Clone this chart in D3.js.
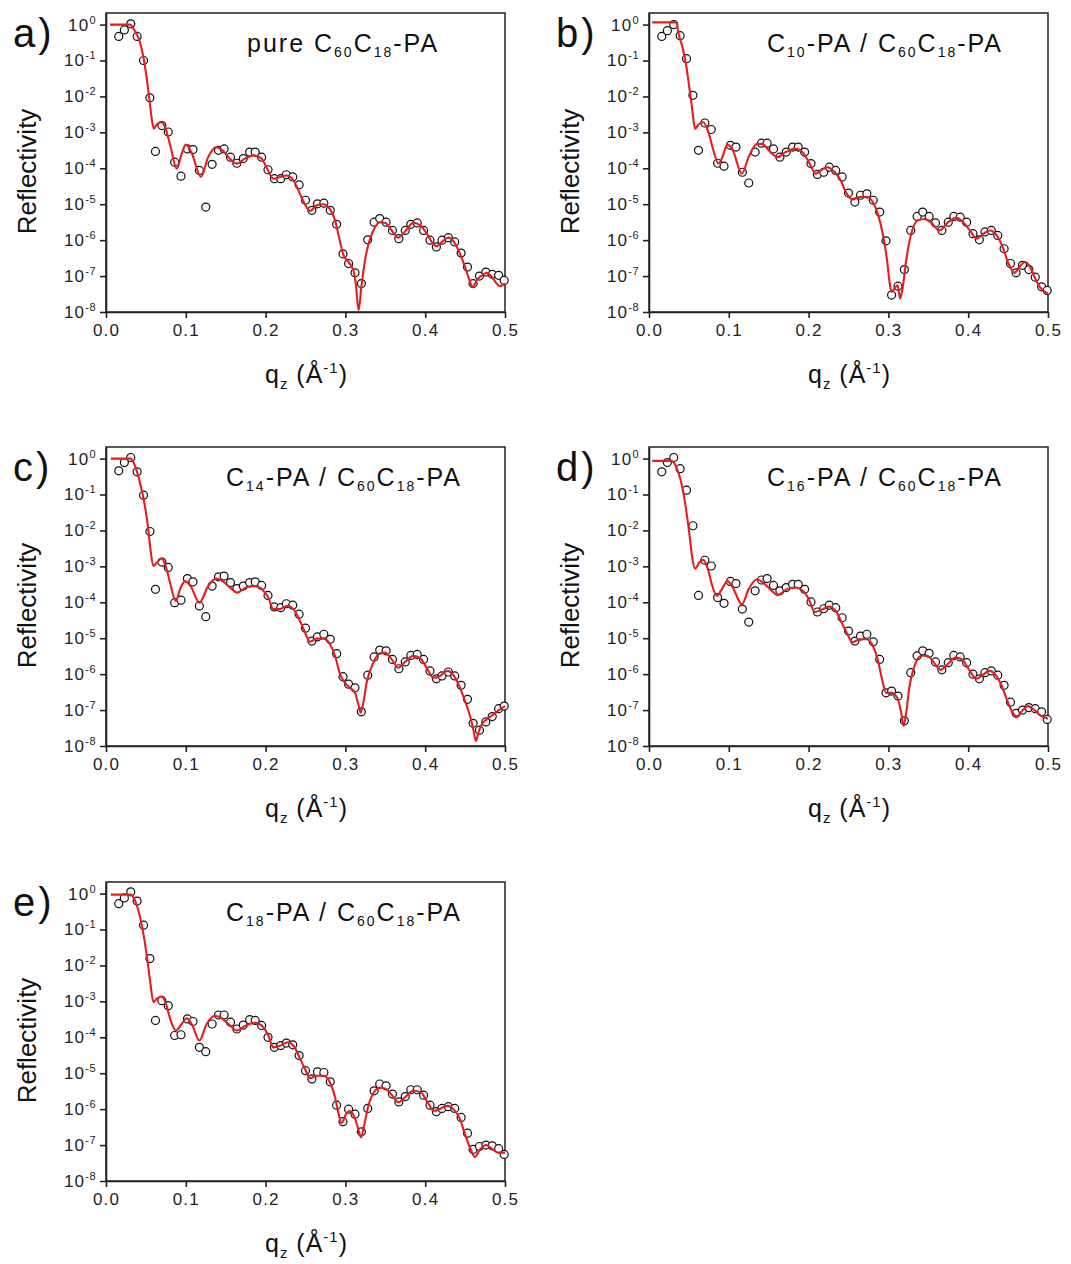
<!DOCTYPE html>
<html lang="en">
<head>
<meta charset="UTF-8">
<title>Reflectivity curves</title>
<style>
  body { margin: 0; background: #fff; }
  svg { display: block; font-family: "Liberation Sans", Arial, sans-serif; }
  .frame { fill: none; stroke: #222; stroke-width: 1.5; }
  .axis path, .axis line { stroke: #222; stroke-width: 1.6; }
  .axis text { fill: #222; }
  .pt { fill: #fafafa; stroke: #111; stroke-width: 1.2; }
  .fit { fill: none; stroke: #e41e1e; stroke-width: 2.1; }
</style>
</head>
<body>
<svg id="fig" width="1071" height="1264"></svg>
<script src="https://d3js.org/d3.v7.min.js"></script>
<script>
// measured q_z points (1/A), same grid in every panel
var qData = [0.016,0.023,0.031,0.039,0.047,0.055,0.062,0.070,0.078,0.086,
             0.094,0.102,0.109,0.117,0.125,0.133,0.141,0.148,0.156,0.164,
             0.172,0.180,0.187,0.195,0.203,0.211,0.219,0.226,0.234,0.242,
             0.250,0.258,0.265,0.273,0.281,0.289,0.297,0.304,0.312,0.320,
             0.328,0.336,0.343,0.351,0.359,0.367,0.375,0.382,0.390,0.398,
             0.406,0.414,0.421,0.429,0.437,0.445,0.453,0.460,0.468,0.476,
             0.484,0.492,0.499];

// log10(reflectivity) of the measured points
var logA = [-0.33,-0.15,0.02,-0.33,-1.0,-2.04,-3.53,-2.81,-2.99,-3.83,
            -4.22,-3.46,-3.48,-4.06,-5.08,-3.89,-3.50,-3.46,-3.69,-3.86,
            -3.73,-3.55,-3.55,-3.69,-4.04,-4.29,-4.29,-4.18,-4.24,-4.46,
            -4.89,-5.17,-4.99,-4.97,-5.17,-5.56,-6.38,-6.65,-6.91,-7.21,
            -5.99,-5.50,-5.40,-5.50,-5.73,-5.96,-5.73,-5.56,-5.52,-5.73,
            -6.00,-6.19,-6.00,-5.93,-6.05,-6.36,-6.75,-7.21,-7.00,-6.89,
            -6.95,-6.98,-7.12];
var logB = [-0.33,-0.17,0.0,-0.31,-0.95,-1.97,-3.50,-2.74,-2.92,-3.86,
            -3.94,-3.36,-3.41,-4.11,-4.41,-3.55,-3.30,-3.30,-3.46,-3.69,
            -3.55,-3.41,-3.41,-3.55,-3.87,-4.17,-4.11,-3.97,-4.06,-4.24,
            -4.69,-4.94,-4.75,-4.71,-4.89,-5.22,-6.02,-7.53,-7.28,-6.82,
            -5.73,-5.34,-5.22,-5.34,-5.52,-5.73,-5.50,-5.34,-5.36,-5.50,
            -5.82,-5.99,-5.77,-5.73,-5.87,-6.24,-6.65,-6.91,-6.70,-6.82,
            -7.03,-7.30,-7.40];
var logC = [-0.34,-0.11,0.03,-0.37,-1.02,-2.03,-3.64,-2.88,-3.03,-4.01,
            -3.94,-3.34,-3.43,-4.10,-4.40,-3.55,-3.29,-3.27,-3.45,-3.62,
            -3.55,-3.45,-3.43,-3.53,-3.81,-4.13,-4.15,-4.04,-4.08,-4.33,
            -4.72,-5.08,-4.96,-4.89,-5.03,-5.43,-6.07,-6.28,-6.38,-7.05,
            -6.03,-5.52,-5.33,-5.35,-5.59,-5.85,-5.66,-5.48,-5.45,-5.59,
            -5.91,-6.13,-6.05,-5.94,-6.05,-6.31,-6.70,-7.37,-7.56,-7.33,
            -7.18,-6.96,-6.89];
var logD = [-0.37,-0.11,0.03,-0.28,-0.88,-1.87,-3.81,-2.83,-2.99,-3.87,
            -4.03,-3.42,-3.48,-4.19,-4.55,-3.68,-3.38,-3.34,-3.53,-3.68,
            -3.59,-3.50,-3.50,-3.64,-3.99,-4.27,-4.18,-4.08,-4.15,-4.43,
            -4.80,-5.08,-4.94,-4.89,-5.10,-5.59,-6.52,-6.47,-6.61,-7.30,
            -5.96,-5.49,-5.35,-5.42,-5.66,-5.88,-5.68,-5.48,-5.52,-5.68,
            -6.00,-6.13,-5.96,-5.91,-6.03,-6.31,-6.78,-7.09,-7.00,-6.93,
            -6.96,-7.05,-7.26];
var logE = [-0.28,-0.12,0.05,-0.21,-0.88,-1.81,-3.53,-2.98,-3.12,-3.95,
            -3.93,-3.49,-3.56,-4.28,-4.40,-3.63,-3.38,-3.38,-3.58,-3.77,
            -3.66,-3.51,-3.53,-3.67,-4.00,-4.28,-4.23,-4.16,-4.21,-4.51,
            -4.93,-5.16,-4.96,-4.98,-5.24,-5.89,-6.35,-6.00,-6.14,-6.63,
            -5.98,-5.49,-5.30,-5.35,-5.58,-5.80,-5.65,-5.46,-5.46,-5.61,
            -5.89,-6.07,-5.98,-5.93,-5.98,-6.23,-6.67,-7.12,-7.04,-7.00,
            -7.02,-7.10,-7.26];

// fitted curves: [q, log10 R]
var fitA = [[0.005,0],[0.030,0],[0.036,-0.17],[0.0426,-0.49],[0.0476,-1.0],[0.052,-1.65],[0.055,-2.2],
  [0.058,-2.72],[0.060,-2.9],[0.0635,-2.78],[0.0698,-2.72],[0.0748,-2.9],[0.081,-3.41],[0.0886,-4.01],
  [0.0948,-3.6],[0.100,-3.34],[0.107,-3.55],[0.119,-4.24],[0.128,-3.69],[0.138,-3.41],[0.145,-3.48],
  [0.155,-3.73],[0.164,-3.87],[0.174,-3.73],[0.185,-3.64],[0.195,-3.73],[0.201,-3.97],[0.210,-4.29],
  [0.218,-4.24],[0.226,-4.2],[0.235,-4.34],[0.243,-4.71],[0.249,-4.99],[0.256,-5.19],[0.264,-5.03],
  [0.272,-5.0],[0.281,-5.15],[0.287,-5.45],[0.292,-5.91],[0.297,-6.38],[0.304,-6.61],[0.310,-6.84],
  [0.313,-7.21],[0.3166,-7.95],[0.320,-7.3],[0.3246,-6.56],[0.329,-6.1],[0.335,-5.73],[0.343,-5.5],
  [0.350,-5.52],[0.358,-5.73],[0.366,-5.93],[0.375,-5.75],[0.385,-5.52],[0.394,-5.59],[0.402,-5.82],
  [0.410,-6.1],[0.414,-6.17],[0.421,-6.05],[0.429,-5.93],[0.436,-6.05],[0.4436,-6.38],[0.450,-6.75],
  [0.454,-7.02],[0.4595,-7.3],[0.4645,-7.12],[0.4708,-6.98],[0.477,-6.91],[0.4833,-7.02],[0.4896,-7.21],
  [0.4937,-7.28],[0.500,-7.21]];
var fitB = [[0.004,0.06],[0.0345,0.06],[0.0366,-0.21],[0.042,-0.63],[0.047,-1.19],[0.051,-1.83],[0.0546,-2.44],
  [0.0576,-2.9],[0.063,-2.76],[0.068,-2.72],[0.0744,-2.99],[0.0807,-3.5],[0.087,-3.87],[0.0912,-3.73],
  [0.0983,-3.34],[0.105,-3.5],[0.1164,-4.15],[0.1248,-3.69],[0.1353,-3.32],[0.1416,-3.32],[0.1521,-3.55],
  [0.1613,-3.69],[0.171,-3.55],[0.1836,-3.46],[0.1941,-3.6],[0.2025,-3.92],[0.2088,-4.15],[0.2151,-4.06],
  [0.2235,-3.97],[0.2328,-4.11],[0.2403,-4.34],[0.2466,-4.66],[0.255,-4.87],[0.2634,-4.8],[0.2731,-4.8],
  [0.2803,-4.94],[0.2866,-5.26],[0.2929,-5.82],[0.2983,-6.56],[0.3017,-7.21],[0.3042,-7.44],[0.3084,-7.32],
  [0.3118,-7.26],[0.3147,-7.63],[0.3181,-7.3],[0.3223,-6.56],[0.3286,-5.82],[0.337,-5.45],[0.3454,-5.41],
  [0.3538,-5.52],[0.3643,-5.73],[0.3748,-5.5],[0.3853,-5.38],[0.3937,-5.5],[0.4021,-5.73],[0.4105,-5.96],
  [0.4189,-5.82],[0.4273,-5.73],[0.4357,-5.87],[0.4441,-6.24],[0.4504,-6.65],[0.458,-6.91],[0.4639,-6.75],
  [0.4714,-6.61],[0.4777,-6.75],[0.484,-7.07],[0.4903,-7.32],[0.500,-7.49]];
var fitC = [[0.006,0],[0.031,0],[0.0363,-0.2],[0.0426,-0.67],[0.0476,-1.18],[0.0522,-1.83],[0.056,-2.57],
  [0.0593,-2.99],[0.0635,-2.9],[0.0698,-2.78],[0.0748,-2.99],[0.0802,-3.45],[0.0873,-3.96],[0.0936,-3.59],
  [0.099,-3.41],[0.106,-3.55],[0.117,-4.01],[0.128,-3.55],[0.1378,-3.34],[0.1462,-3.41],[0.1554,-3.59],
  [0.1646,-3.73],[0.1754,-3.59],[0.1867,-3.55],[0.1972,-3.68],[0.2034,-3.87],[0.2097,-4.19],[0.218,-4.19],
  [0.2272,-4.1],[0.2348,-4.19],[0.2431,-4.52],[0.2494,-4.84],[0.2556,-5.1],[0.264,-5.01],[0.2724,-5.01],
  [0.2807,-5.17],[0.287,-5.49],[0.2932,-6.0],[0.2995,-6.24],[0.3058,-6.38],[0.312,-6.52],[0.3162,-6.84],
  [0.3191,-7.07],[0.3225,-6.79],[0.3266,-6.24],[0.335,-5.68],[0.3434,-5.42],[0.3496,-5.4],[0.358,-5.59],
  [0.3663,-5.82],[0.3747,-5.66],[0.3851,-5.49],[0.3943,-5.57],[0.4018,-5.82],[0.4102,-6.1],[0.4185,-6.05],
  [0.4277,-5.91],[0.4361,-6.05],[0.4436,-6.38],[0.4499,-6.75],[0.4561,-7.16],[0.4603,-7.54],[0.4637,-7.86],
  [0.4666,-7.63],[0.4708,-7.4],[0.477,-7.26],[0.4854,-7.12],[0.4937,-6.98],[0.500,-6.89]];
var fitD = [[0.004,-0.065],[0.028,-0.065],[0.0345,-0.25],[0.0408,-0.71],[0.0458,-1.32],[0.0504,-2.06],
  [0.0542,-2.76],[0.0576,-3.06],[0.063,-2.9],[0.068,-2.82],[0.0731,-3.03],[0.0794,-3.55],[0.0849,-3.82],
  [0.0912,-3.64],[0.0983,-3.41],[0.105,-3.59],[0.1164,-4.06],[0.1248,-3.64],[0.1353,-3.36],[0.1429,-3.45],
  [0.1521,-3.64],[0.1613,-3.8],[0.1723,-3.64],[0.1824,-3.59],[0.1941,-3.71],[0.2004,-3.92],[0.2076,-4.27],
  [0.2172,-4.2],[0.2256,-4.12],[0.234,-4.24],[0.2424,-4.61],[0.2487,-4.89],[0.255,-5.12],[0.2634,-5.03],
  [0.2727,-5.03],[0.2803,-5.2],[0.2866,-5.59],[0.2916,-6.1],[0.2971,-6.52],[0.3034,-6.52],[0.3109,-6.65],
  [0.316,-7.07],[0.3189,-7.44],[0.3223,-7.07],[0.3265,-6.33],[0.3328,-5.77],[0.3412,-5.49],[0.3487,-5.49],
  [0.3571,-5.68],[0.3655,-5.88],[0.3739,-5.73],[0.384,-5.54],[0.3924,-5.59],[0.4008,-5.87],[0.4105,-6.13],
  [0.4176,-6.03],[0.4273,-5.91],[0.4345,-6.03],[0.442,-6.33],[0.4483,-6.7],[0.4546,-7.03],[0.4609,-7.18],
  [0.4672,-7.03],[0.4748,-6.89],[0.482,-6.98],[0.4903,-7.15],[0.500,-7.24]];
var fitE = [[0.006,-0.03],[0.031,-0.03],[0.0363,-0.19],[0.0426,-0.65],[0.0476,-1.21],[0.0522,-1.91],
  [0.056,-2.56],[0.0593,-3.02],[0.0635,-2.93],[0.0698,-2.86],[0.0748,-3.04],[0.081,-3.53],[0.0877,-3.81],
  [0.0948,-3.63],[0.1011,-3.47],[0.1074,-3.63],[0.117,-4.09],[0.1261,-3.63],[0.1366,-3.4],[0.145,-3.47],
  [0.1554,-3.67],[0.1637,-3.81],[0.1754,-3.67],[0.1867,-3.6],[0.1972,-3.72],[0.2034,-3.95],[0.2097,-4.28],
  [0.2189,-4.23],[0.2272,-4.14],[0.2356,-4.25],[0.2431,-4.6],[0.2494,-4.88],[0.2556,-5.14],[0.264,-5.07],
  [0.2724,-5.07],[0.2807,-5.26],[0.287,-5.67],[0.2911,-6.09],[0.2953,-6.39],[0.3008,-6.14],[0.3058,-6.05],
  [0.312,-6.26],[0.3162,-6.56],[0.3195,-6.79],[0.3233,-6.47],[0.3287,-5.91],[0.3358,-5.53],[0.3434,-5.4],
  [0.3509,-5.44],[0.3592,-5.63],[0.3663,-5.81],[0.3747,-5.67],[0.3851,-5.49],[0.3943,-5.53],[0.4027,-5.8],
  [0.411,-6.05],[0.4194,-5.98],[0.4277,-5.91],[0.4361,-6.02],[0.4436,-6.28],[0.4499,-6.7],[0.4561,-7.07],
  [0.4624,-7.33],[0.4687,-7.12],[0.4762,-7.0],[0.4833,-7.1],[0.4916,-7.21],[0.500,-7.21]];

// titles, pieces flagged 1 are subscripts
var titleA = [["pure C",0],["60",1],["C",0],["18",1],["-PA",0]];
var titleB = [["C",0],["10",1],["-PA / C",0],["60",1],["C",0],["18",1],["-PA",0]];
var titleC = [["C",0],["14",1],["-PA / C",0],["60",1],["C",0],["18",1],["-PA",0]];
var titleD = [["C",0],["16",1],["-PA / C",0],["60",1],["C",0],["18",1],["-PA",0]];
var titleE = [["C",0],["18",1],["-PA / C",0],["60",1],["C",0],["18",1],["-PA",0]];

var xTicks = [0.0, 0.1, 0.2, 0.3, 0.4, 0.5];
var yTicks = [1e-8, 1e-7, 1e-6, 1e-5, 1e-4, 1e-3, 1e-2, 1e-1, 1e0];

var panels = [
  {tag: "a)", logR: logA, fit: fitA, title: titleA, left: 106, top: 13,  titleX: 141},
  {tag: "b)", logR: logB, fit: fitB, title: titleB, left: 649, top: 13,  titleX: 118},
  {tag: "c)", logR: logC, fit: fitC, title: titleC, left: 106, top: 447, titleX: 120},
  {tag: "d)", logR: logD, fit: fitD, title: titleD, left: 649, top: 447, titleX: 118},
  {tag: "e)", logR: logE, fit: fitE, title: titleE, left: 106, top: 882, titleX: 120}
];

var W = 399, H = 299;
var svg = d3.select("#fig");

var x = d3.scaleLinear().domain([0, 0.5]).range([0, W]);
var y = d3.scaleLog().domain([1e-8, 2.1]).range([H, 0]);

var line = d3.line()
    .x(function(d) { return x(d[0]); })
    .y(function(d) { return y(Math.pow(10, d[1])); })
    .curve(d3.curveMonotoneX);

panels.forEach(function(p) {
    var g = svg.append("g").attr("transform", "translate(" + p.left + "," + p.top + ")");

    // axes
    g.append("g")
        .attr("class", "axis")
        .attr("transform", "translate(0," + H + ")")
        .call(d3.axisBottom(x).tickValues(xTicks).tickFormat(d3.format(".1f"))
              .tickSize(6).tickSizeOuter(0).tickPadding(6))
        .selectAll("text")
        .attr("font-size", 17)
        .attr("letter-spacing", 1.2)
        .attr("font-family", "Liberation Sans, Arial, sans-serif");

    var ya = g.append("g")
        .attr("class", "axis")
        .call(d3.axisLeft(y).tickValues(yTicks).tickSize(6).tickSizeOuter(0).tickPadding(4));
    ya.selectAll(".tick text").each(function(d) {
        var t = d3.select(this);
        t.text(null)
         .attr("font-size", 17)
         .attr("letter-spacing", 1.2)
         .attr("font-family", "Liberation Sans, Arial, sans-serif");
        t.append("tspan").text("10");
        t.append("tspan").attr("dy", -7).attr("font-size", 11).attr("letter-spacing", 0.5)
         .text(String(Math.round(Math.log10(d))));
    });

    g.append("rect").attr("class", "frame").attr("width", W).attr("height", H);

    // data points
    g.selectAll("circle")
        .data(qData.map(function(q, i) { return [q, p.logR[i]]; }))
        .enter().append("circle")
        .attr("class", "pt")
        .attr("r", 4)
        .attr("cx", function(d) { return x(d[0]); })
        .attr("cy", function(d) { return y(Math.pow(10, d[1])); });

    // fit
    g.append("path").attr("class", "fit").attr("d", line(p.fit));

    // panel tag
    g.append("text")
        .attr("x", -93).attr("y", 34)
        .attr("font-size", 40)
        .attr("letter-spacing", 3)
        .attr("fill", "#111")
        .text(p.tag);

    // title
    var tt = g.append("text")
        .attr("x", p.titleX).attr("y", 39)
        .attr("font-size", 25)
        .attr("letter-spacing", 2)
        .attr("fill", "#111");
    var shifted = false;
    p.title.forEach(function(s) {
        var span = tt.append("tspan").text(s[0]);
        if (s[1] && !shifted) { span.attr("dy", 5).attr("font-size", 14); shifted = true; }
        else if (!s[1] && shifted) { span.attr("dy", -5); shifted = false; }
        else if (s[1]) { span.attr("font-size", 14); }
    });

    // axis titles
    g.append("text")
        .attr("transform", "translate(-70," + (H / 2 + 9) + ") rotate(-90)")
        .attr("text-anchor", "middle")
        .attr("font-size", 26)
        .attr("fill", "#111")
        .text("Reflectivity");

    var xl = g.append("text")
        .attr("x", W / 2 + 1).attr("y", H + 71)
        .attr("text-anchor", "middle")
        .attr("font-size", 25)
        .attr("letter-spacing", 1)
        .attr("fill", "#111");
    xl.append("tspan").text("q");
    xl.append("tspan").attr("dy", 6).attr("font-size", 15).text("z");
    xl.append("tspan").attr("dy", -6).text(" (Å");
    xl.append("tspan").attr("dy", -10).attr("font-size", 15).text("-1");
    xl.append("tspan").attr("dy", 10).text(")");
});
</script>
</body>
</html>
